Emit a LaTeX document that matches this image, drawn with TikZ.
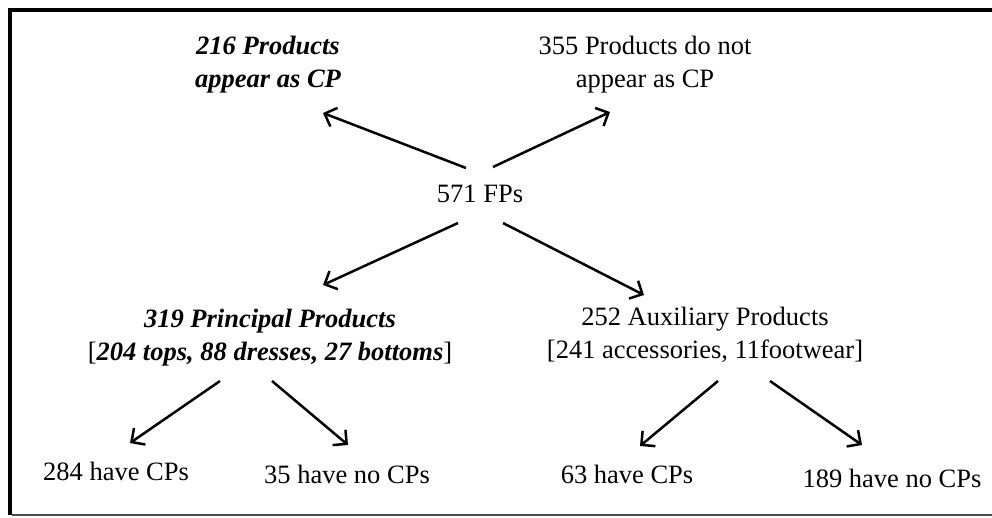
\documentclass[tikz,border=0pt]{standalone}
\usepackage{fontspec}
\setmainfont{Liberation Serif}
\usetikzlibrary{arrows.meta}
\begin{document}
\begin{tikzpicture}[x=1pt,y=-1pt,
  txt/.style={inner sep=0pt, font=\fontsize{26.5}{33}\selectfont, align=center, anchor=base},
  bitxt/.style={txt, font=\fontsize{26.5}{33}\selectfont\bfseries\itshape},
  arr/.style={line width=2.5pt, -{Straight Barb[length=10pt,width=20pt]}}]
\useasboundingbox (0,0) rectangle (992,517);
\fill[white] (0,0) rectangle (992,517);
\draw[line width=4.5pt] (10,515) -- (10,10) -- (992,10);
\draw[black!70, line width=2pt] (12,515) -- (992,515);

\node[bitxt] (p216) at (268,87) {216 Products\\appear as CP};
\node[txt] (p355) at (645,87) {355 Products do not\\appear as CP};
\node[txt] (fp) at (480,202) {571 FPs};
\node[txt] (prin) at (270,360) {\bfseries\itshape 319 Principal Products\\{[}\textbf{\textit{204 tops, 88 dresses, 27 bottoms}}{]}};
\node[txt] (aux) at (705,358) {252 Auxiliary Products\\{[}241 accessories, 11footwear{]}};
\node[txt] (c284) at (116,480) {284 have CPs};
\node[txt] (c35) at (347,483) {35 have no CPs};
\node[txt] (c63) at (627,483) {63 have CPs};
\node[txt] (c189) at (892,487) {189 have no CPs};

\coordinate (fpA) at (466,168);
\coordinate (fpB) at (493,167);
\coordinate (fpC) at (458,223);
\coordinate (fpD) at (503,223);
\coordinate (t216) at (323,113);
\coordinate (t355) at (610,112);
\coordinate (tprin) at (323,285);
\coordinate (taux) at (644,295);
\coordinate (prA) at (220,381);
\coordinate (prB) at (272,381);
\coordinate (t284) at (130,443);
\coordinate (t35) at (348,445);
\coordinate (auA) at (718,381);
\coordinate (auB) at (770,381);
\coordinate (t63) at (640,446);
\coordinate (t189) at (862,445);

\draw[arr] (fpA) -- (t216);
\draw[arr] (fpB) -- (t355);
\draw[arr] (fpC) -- (tprin);
\draw[arr] (fpD) -- (taux);
\draw[arr] (prA) -- (t284);
\draw[arr] (prB) -- (t35);
\draw[arr] (auA) -- (t63);
\draw[arr] (auB) -- (t189);
\end{tikzpicture}
\end{document}
